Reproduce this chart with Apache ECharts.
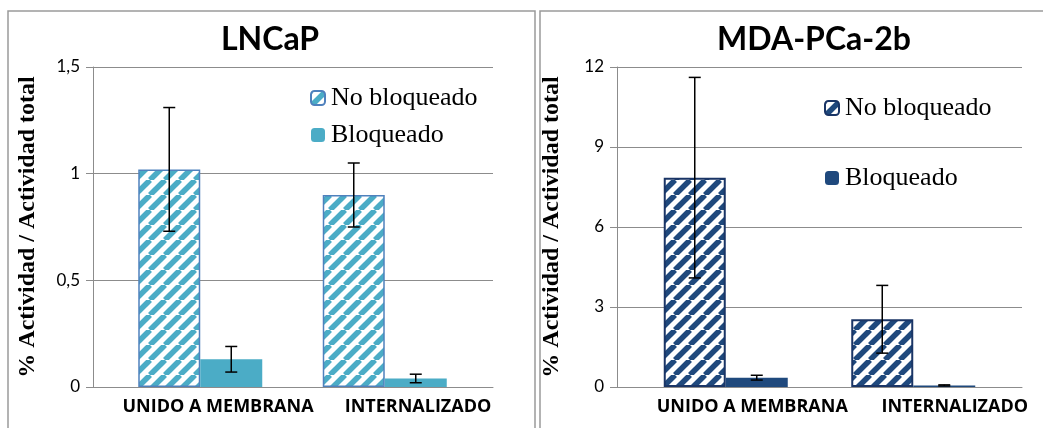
<!DOCTYPE html>
<html>
<head>
<meta charset="utf-8">
<script src="https://cdn.jsdelivr.net/npm/echarts@6/dist/echarts.min.js"></script>
<style>
  html, body { margin: 0; padding: 0; background: #fff; }
  #chart { width: 1043px; height: 428px; }
</style>
</head>
<body>
<div id="chart"></div>
<script>
var categories = ['UNIDO A MEMBRANA', 'INTERNALIZADO'];

// LNCaP
var lncapNoBloq = [1.02, 0.90];
var lncapNoBloqErr = [0.29, 0.15];
var lncapBloq = [0.13, 0.04];
var lncapBloqErr = [0.06, 0.02];

// MDA-PCa-2b
var mdaNoBloq = [7.85, 2.54];
var mdaNoBloqErr = [3.76, 1.27];
var mdaBloq = [0.35, 0.06];
var mdaBloqErr = [0.09, 0.02];

var lncapTicks = [0, 0.5, 1, 1.5];
var mdaTicks = [0, 3, 6, 9, 12];

var gridColor = '#8c8c8c';
var sans = 'Lato';
var serif = 'Liberation Serif';

function stripes(color) {
  var c = document.createElement('canvas');
  c.width = 15; c.height = 15;
  var ctx = c.getContext('2d');
  ctx.fillStyle = '#fff';
  ctx.fillRect(0, 0, 15, 15);
  ctx.strokeStyle = color;
  ctx.lineWidth = 5.5;
  [-15, 0, 15].forEach(function (x0) {
    ctx.beginPath();
    ctx.moveTo(x0, 15);
    ctx.lineTo(x0 + 15, 0);
    ctx.stroke();
  });
  return { image: c, repeat: 'repeat' };
}

function errData(vals, errs) {
  return vals.map(function (v, i) { return [i, v, errs[i]]; });
}

function errSeries(vals, errs, xi, yi, dx) {
  return {
    type: 'custom',
    xAxisIndex: xi,
    yAxisIndex: yi,
    z: 10,
    silent: true,
    data: errData(vals, errs),
    renderItem: function (params, api) {
      var i = api.value(0), v = api.value(1), e = api.value(2);
      var hi = api.coord([i, v + e]);
      var lo = api.coord([i, v - e]);
      var x = hi[0] + dx, w = 6;
      var st = { stroke: '#000', lineWidth: 1.5 };
      return {
        type: 'group',
        children: [
          { type: 'line', shape: { x1: x, y1: hi[1], x2: x, y2: lo[1] }, style: st },
          { type: 'line', shape: { x1: x - w, y1: hi[1], x2: x + w, y2: hi[1] }, style: st },
          { type: 'line', shape: { x1: x - w, y1: lo[1], x2: x + w, y2: lo[1] }, style: st }
        ]
      };
    }
  };
}

function valueAxis(grid, ticks, show) {
  return {
    type: 'value',
    gridIndex: grid,
    min: ticks[0],
    max: ticks[ticks.length - 1],
    interval: ticks[1] - ticks[0],
    show: show,
    name: show ? '% Actividad / Actividad total' : '',
    nameLocation: 'middle',
    nameRotate: 90,
    nameGap: 53,
    nameTextStyle: { fontFamily: serif, fontWeight: 'bold', fontSize: 24, color: '#000' },
    axisLine: { show: true, lineStyle: { color: gridColor, width: 1 } },
    axisTick: { show: true, length: 7, lineStyle: { color: gridColor } },
    axisLabel: {
      margin: 13, fontFamily: sans, fontSize: 17, color: '#000',
      formatter: function (v) { return String(v).replace('.', ','); }
    },
    splitLine: { show: show, lineStyle: { color: gridColor, width: 1 } }
  };
}

function catAxis(grid, show, shift) {
  return {
    type: 'category',
    gridIndex: grid,
    data: categories,
    show: show,
    axisLine: { show: true, lineStyle: { color: gridColor, width: 1 } },
    axisTick: { show: false },
    axisLabel: {
      margin: 11, fontFamily: 'Open Sans', fontWeight: 'bold', fontSize: 18, color: '#000',
      padding: [0, 0, 0, shift * 2], interval: 0
    }
  };
}

var leftStripe = stripes('#4bacc6');
var rightStripe = stripes('#1f497d');

var option = {
  animation: false,
  backgroundColor: '#fff',
  title: [
    { text: 'LNCaP', left: 265, top: 19, textAlign: 'center',
      textStyle: { fontFamily: sans, fontWeight: 'bold', fontSize: 32, color: '#000' } },
    { text: 'MDA-PCa-2b', left: 809, top: 19, textAlign: 'center',
      textStyle: { fontFamily: sans, fontWeight: 'bold', fontSize: 32, color: '#000' } }
  ],
  legend: [
    {
      orient: 'vertical', left: 305, top: 80, itemWidth: 14, itemHeight: 14, itemGap: 11,
      data: ['No bloqueado', 'Bloqueado'],
      textStyle: { fontFamily: serif, fontSize: 26, lineHeight: 26, color: '#000', padding: [0, 0, 0, 1] }
    },
    {
      orient: 'vertical', left: 819, top: 90, itemWidth: 14, itemHeight: 14, itemGap: 44,
      data: ['No bloqueado ', 'Bloqueado '],
      textStyle: { fontFamily: serif, fontSize: 26, lineHeight: 26, color: '#000', padding: [0, 0, 0, 1] }
    }
  ],
  graphic: [
    { type: 'rect', shape: { x: 8, y: 11, width: 527, height: 440 }, style: { fill: 'none', stroke: '#9a9a9a', lineWidth: 1.5 }, silent: true },
    { type: 'rect', shape: { x: 540, y: 11, width: 520, height: 440 }, style: { fill: 'none', stroke: '#9a9a9a', lineWidth: 1.5 }, silent: true }
  ],
  grid: [
    { left: 93, top: 67, width: 400, height: 320 },
    { left: 108, top: 67, width: 369, height: 320 },
    { left: 617, top: 67, width: 405, height: 320 },
    { left: 632, top: 67, width: 375, height: 320 }
  ],
  xAxis: [
    catAxis(0, true, 25),
    catAxis(1, false, 0),
    catAxis(2, true, 34),
    catAxis(3, false, 0)
  ],
  yAxis: [
    valueAxis(0, lncapTicks, true),
    valueAxis(1, lncapTicks, false),
    valueAxis(2, mdaTicks, true),
    valueAxis(3, mdaTicks, false)
  ],
  series: [
    {
      name: 'No bloqueado', type: 'bar', xAxisIndex: 1, yAxisIndex: 1,
      data: lncapNoBloq, barWidth: 62, barGap: 0,
      itemStyle: { color: leftStripe, borderColor: '#4f81bd', borderWidth: 1.5 }
    },
    {
      name: 'Bloqueado', type: 'bar', xAxisIndex: 1, yAxisIndex: 1,
      data: lncapBloq, barWidth: 62, barGap: 0,
      itemStyle: { color: '#4bacc6' }
    },
    errSeries(lncapNoBloq, lncapNoBloqErr, 1, 1, -31),
    errSeries(lncapBloq, lncapBloqErr, 1, 1, 31),
    {
      name: 'No bloqueado ', type: 'bar', xAxisIndex: 3, yAxisIndex: 3,
      data: mdaNoBloq, barWidth: 62, barGap: 0,
      itemStyle: { color: rightStripe, borderColor: '#1a3566', borderWidth: 2 }
    },
    {
      name: 'Bloqueado ', type: 'bar', xAxisIndex: 3, yAxisIndex: 3,
      data: mdaBloq, barWidth: 62, barGap: 0,
      itemStyle: { color: '#1f497d' }
    },
    errSeries(mdaNoBloq, mdaNoBloqErr, 3, 3, -31),
    errSeries(mdaBloq, mdaBloqErr, 3, 3, 31)
  ]
};

var chart = echarts.init(document.getElementById('chart'), null, { renderer: 'canvas' });
chart.setOption(option);
</script>
</body>
</html>
